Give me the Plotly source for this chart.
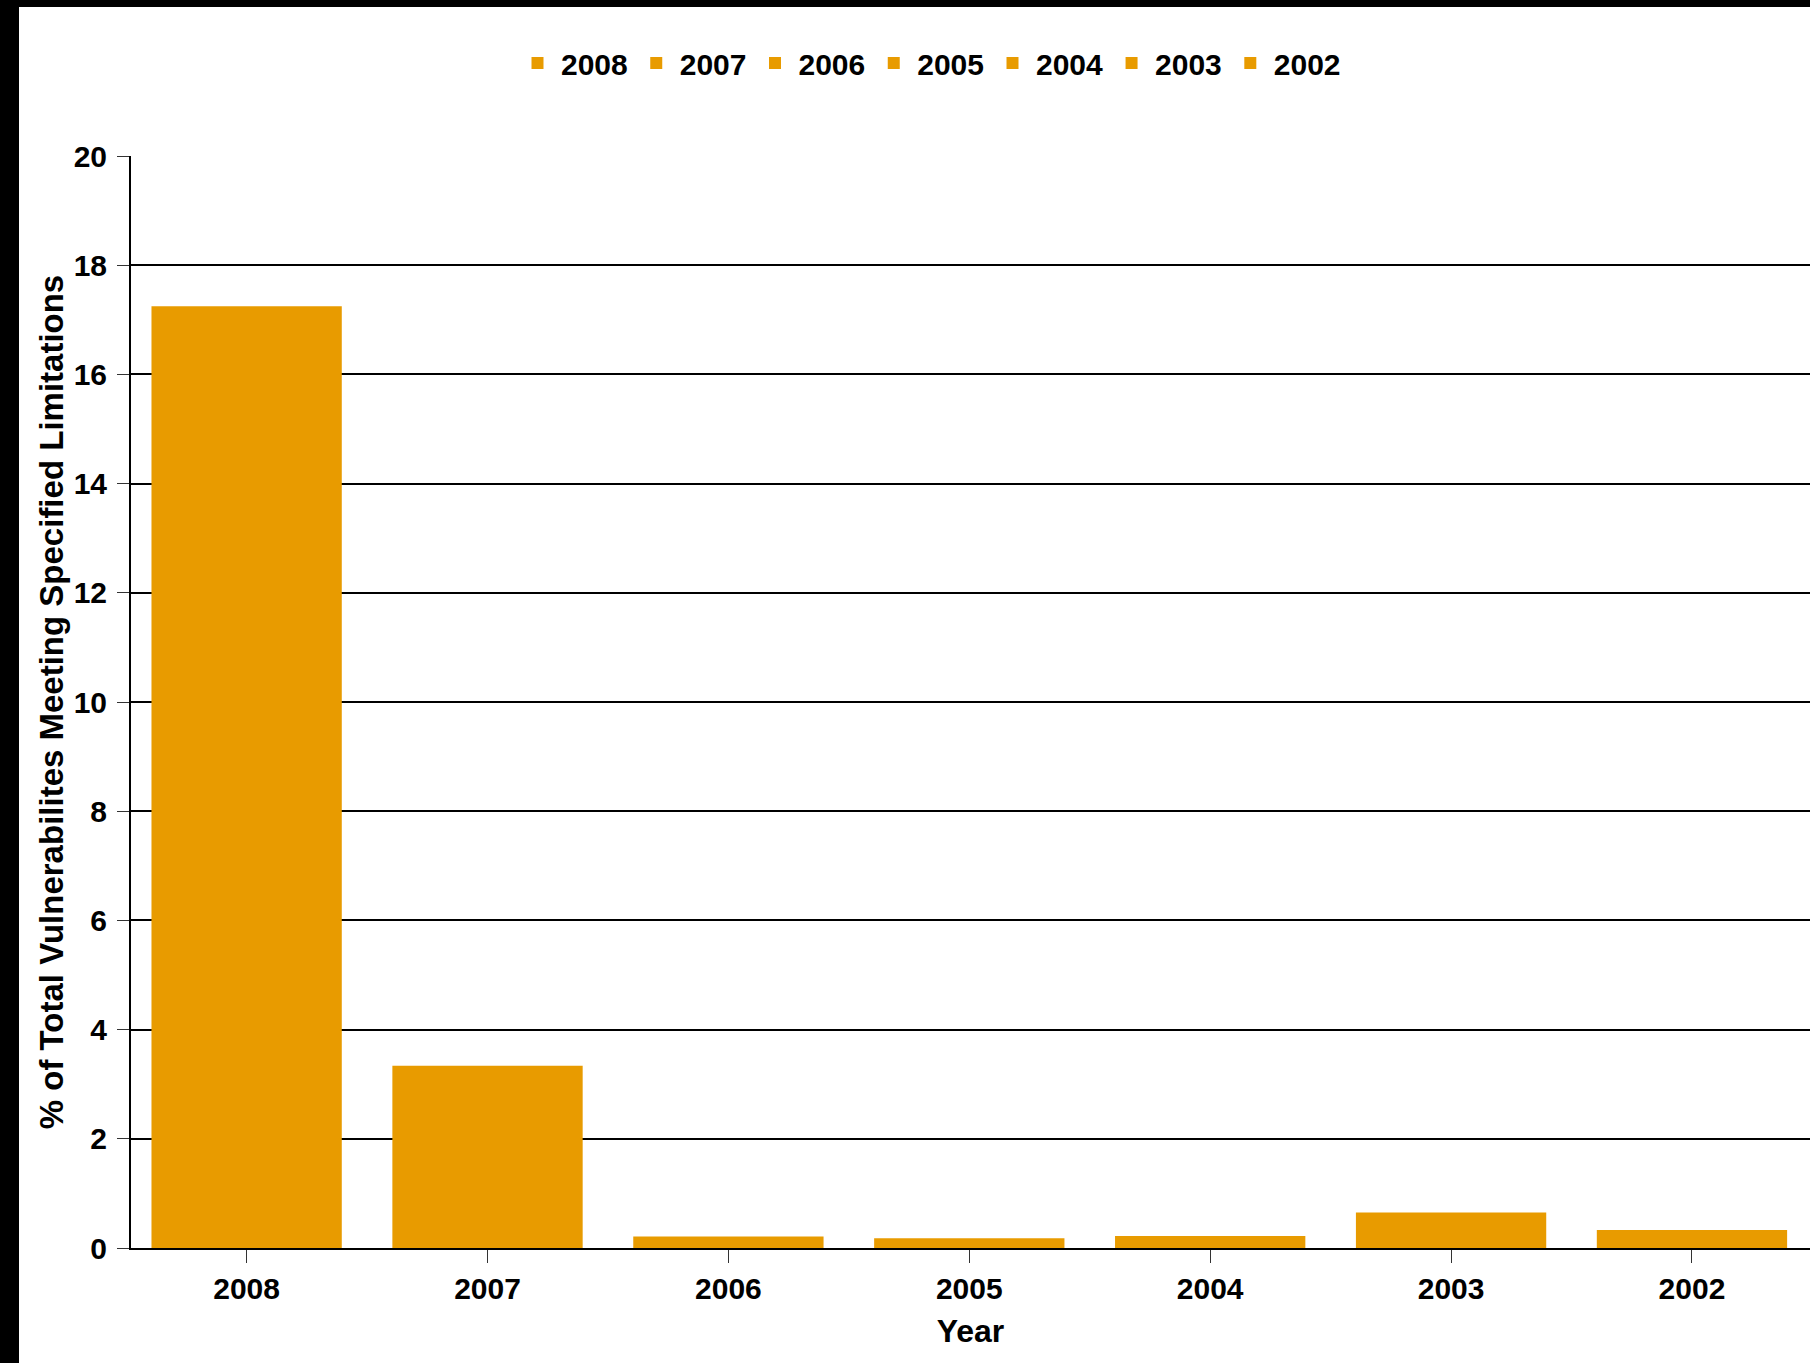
import plotly.graph_objects as go

years = ["2008", "2007", "2006", "2005", "2004", "2003", "2002"]
values = [17.25, 3.34, 0.21, 0.18, 0.22, 0.65, 0.33]
y_ticks = [0, 2, 4, 6, 8, 10, 12, 14, 16, 18, 20]

BAR = "#E89B00"
FONT = "Liberation Sans, Arial"

W, H = 1810, 1363
L, R, T, B = 131, 0, 156, 115
pw, ph = W - L - R, H - T - B

fig = go.Figure()
for yr, v in zip(years, values):
    fig.add_trace(go.Bar(x=[yr], y=[v], name=yr, marker=dict(color=BAR, line=dict(width=0))))

fig.update_layout(
    width=W, height=H,
    margin=dict(l=L, r=R, t=T, b=B, pad=0),
    paper_bgcolor="white", plot_bgcolor="white",
    barmode="overlay", bargap=0.21,
    showlegend=True,
    legend=dict(orientation="h", x=(930 - L) / pw, xanchor="center",
                y=1 + (T - 63) / ph, yanchor="middle",
                font=dict(family=FONT, size=30, color="black", weight="bold"),
                itemwidth=37, traceorder="normal", bgcolor="rgba(0,0,0,0)"),
    xaxis=dict(type="category", categoryorder="array", categoryarray=years,
               range=[-0.48, 6.49], showgrid=False, showline=True, linecolor="black", linewidth=2,
               ticks="outside", ticklen=13, tickwidth=1, tickcolor="#333",
               tickfont=dict(family=FONT, size=30, color="black", weight="bold"),
               title=dict(text="Year", font=dict(family=FONT, size=32, color="black", weight="bold"),
                          standoff=16)),
    yaxis=dict(range=[0, 20], tickvals=y_ticks, showgrid=True, gridcolor="black", gridwidth=2,
               showline=True, linecolor="black", linewidth=2, zeroline=False,
               ticks="outside", ticklen=12, tickwidth=1, tickcolor="#333",
               ticklabelstandoff=4,
               tickfont=dict(family=FONT, size=30, color="black", weight="bold"),
               title=dict(text="% of Total Vulnerabilites Meeting Specified Limitations",
                          font=dict(family=FONT, size=33, color="black", weight="bold"),
                          standoff=0)),
    shapes=[
        dict(type="rect", xref="paper", yref="paper", x0=(0 - L) / pw, x1=(19 - L) / pw,
             y0=(0 - B) / ph, y1=1 + T / ph, fillcolor="black", line=dict(width=0), layer="above"),
        dict(type="rect", xref="paper", yref="paper", x0=(0 - L) / pw, x1=1,
             y0=1 + (T - 7) / ph, y1=1 + T / ph, fillcolor="black", line=dict(width=0), layer="above"),
    ],
)

fig.write_html("out.html")
